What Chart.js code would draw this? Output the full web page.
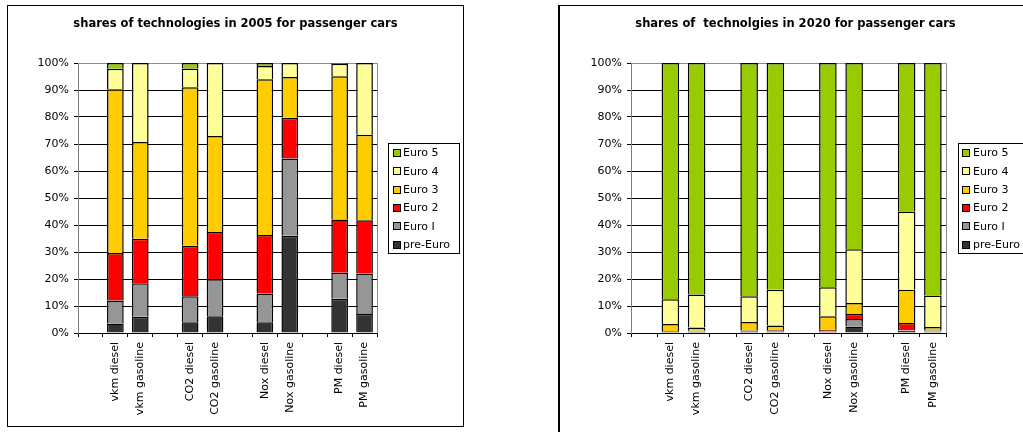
<!DOCTYPE html>
<html>
<head>
<meta charset="utf-8">
<script src="https://cdn.jsdelivr.net/npm/chart.js@4/dist/chart.umd.min.js"></script>
<style>
  html, body { margin: 0; padding: 0; background: #fff; overflow: hidden; width: 1023px; height: 432px; }
  .box { position: absolute; border: 1px solid #000; background: #fff; }
  #box2005 { left: 7px; top: 5px; width: 455px; height: 420px; }
  #box2020 { left: 558px; top: 5px; width: 472px; height: 440px; border-left-width: 2px; }
  canvas { display: block; }
</style>
</head>
<body>
<div class="box" id="box2005"><canvas id="c2005" width="455" height="420"></canvas></div>
<div class="box" id="box2020"><canvas id="c2020" width="471" height="440"></canvas></div>
<script>
// Categories (empty slots separate the vkm / CO2 / Nox / PM groups)
const categories = ['', 'vkm diesel', 'vkm gasoline', '', 'CO2 diesel', 'CO2 gasoline', '', 'Nox diesel', 'Nox gasoline', '', 'PM diesel', 'PM gasoline'];

const seriesNames = ['pre-Euro', 'Euro I', 'Euro 2', 'Euro 3', 'Euro 4', 'Euro 5'];
const seriesColors = ['#333333', '#969696', '#FF0000', '#FFCC00', '#FFFF99', '#99CC00'];

// Shares in 2005 (%)
const preEuro2005 = [null, 3.5, 6.0, null, 4.0, 6.2, null, 4.0, 36.0, null, 12.7, 7.0];
const euroI2005   = [null, 8.5, 12.4, null, 9.6, 13.7, null, 10.6, 28.6, null, 9.6, 15.0];
const euro2_2005  = [null, 17.6, 16.5, null, 18.7, 17.5, null, 21.7, 15.1, null, 19.7, 19.8];
const euro3_2005  = [null, 60.7, 35.8, null, 58.7, 35.6, null, 57.7, 15.1, null, 53.1, 31.6];
const euro4_2005  = [null, 7.6, 29.3, null, 7.0, 27.0, null, 4.9, 5.2, null, 4.6, 26.6];
const euro5_2005  = [null, 2.1, 0, null, 2.0, 0, null, 1.1, 0, null, 0.3, 0];

// Shares in 2020 (%)
const preEuro2020 = [null, 0.4, 0.5, null, 0.4, 0.6, null, 0.4, 2.4, null, 0.8, 0.5];
const euroI2020   = [null, 0.1, 0.1, null, 0.1, 0.2, null, 0.2, 2.8, null, 0.2, 0.1];
const euro2_2020  = [null, 0.2, 0.2, null, 0.4, 0.3, null, 0.6, 1.8, null, 2.7, 0.3];
const euro3_2020  = [null, 2.6, 1.2, null, 3.2, 1.7, null, 5.0, 4.1, null, 12.3, 1.3];
const euro4_2020  = [null, 9.2, 12.3, null, 9.5, 13.2, null, 10.7, 19.9, null, 29.0, 11.7];
const euro5_2020  = [null, 87.5, 85.7, null, 86.4, 84.0, null, 83.1, 69.0, null, 55.0, 86.1];

const yTicks = [0, 10, 20, 30, 40, 50, 60, 70, 80, 90, 100];

const FONT = '"DejaVu Sans", Verdana, sans-serif';
Chart.defaults.color = '#000';
Chart.defaults.font.family = FONT;
Chart.defaults.font.size = 11;

// Chart heading, centred across the whole chart box
const boxTitle = {
  id: 'boxTitle',
  afterDraw(chart, args, o) {
    const ctx = chart.ctx;
    ctx.save();
    ctx.font = 'bold 11.5px ' + FONT;
    ctx.fillStyle = '#000';
    ctx.textAlign = 'center';
    ctx.textBaseline = 'middle';
    ctx.fillText(o.text, chart.width / 2 + (o.shift || 0), o.y);
    ctx.restore();
  }
};

// Gray frame on top and right of the plot area
const plotFrame = {
  id: 'plotFrame',
  beforeDatasetsDraw(chart) {
    const { ctx, chartArea: a } = chart;
    ctx.save();
    ctx.strokeStyle = '#8c8c8c';
    ctx.lineWidth = 1;
    ctx.beginPath();
    ctx.moveTo(Math.round(a.left) + 0.5, Math.round(a.top) + 0.5);
    ctx.lineTo(Math.round(a.right) + 0.5, Math.round(a.top) + 0.5);
    ctx.lineTo(Math.round(a.right) + 0.5, Math.round(a.bottom) + 0.5);
    ctx.stroke();
    ctx.restore();
  }
};

// Boxed legend listing the series from top (Euro 5) to bottom (pre-Euro)
const boxLegend = {
  id: 'boxLegend',
  afterDraw(chart, args, o) {
    const { ctx, chartArea: a } = chart;
    const x = Math.round(a.right) + o.gap, y = o.top, w = o.width, h = o.height;
    ctx.save();
    ctx.fillStyle = '#fff';
    ctx.fillRect(x, y, w, h);
    ctx.strokeStyle = '#000';
    ctx.lineWidth = 1;
    ctx.strokeRect(x + 0.5, y + 0.5, w - 1, h - 1);
    ctx.font = '11px ' + FONT;
    ctx.textBaseline = 'middle';
    ctx.textAlign = 'left';
    const items = chart.data.datasets.slice().reverse();
    items.forEach((d, i) => {
      const cy = y + o.firstRow + i * o.rowHeight;
      const sx = x + o.swatchX, sy = Math.round(cy - 4);
      ctx.fillStyle = '#000';
      ctx.fillRect(sx, sy, 8, 8);
      ctx.fillStyle = d.backgroundColor;
      ctx.fillRect(sx + 1, sy + 1, 6, 6);
      ctx.fillStyle = '#000';
      ctx.fillText(d.label, x + o.textX, cy + 0.5);
    });
    ctx.restore();
  }
};

function makeDatasets(series) {
  return series.map((values, i) => ({
    label: seriesNames[i],
    data: values,
    backgroundColor: seriesColors[i],
    borderColor: '#000',
    borderWidth: 1.5,
    borderSkipped: 'start',
    barPercentage: 0.67,
    categoryPercentage: 1
  }));
}

function makeChart(canvasId, title, series, yWidth, rightPad, xHeight, legendOpts) {
  return new Chart(document.getElementById(canvasId), {
    type: 'bar',
    data: { labels: categories, datasets: makeDatasets(series) },
    plugins: [plotFrame, boxLegend, boxTitle],
    options: {
      responsive: false,
      animation: false,
      events: [],
      layout: { padding: { left: 0, right: rightPad, top: 57, bottom: 0 } },
      plugins: {
        legend: { display: false },
        tooltip: { enabled: false },
        title: { display: false },
        boxTitle: { text: title, y: 18 },
        boxLegend: legendOpts
      },
      scales: {
        x: {
          stacked: true,
          grid: { offset: true, drawOnChartArea: false, drawTicks: true, tickLength: 4, color: '#000' },
          border: { color: '#000' },
          ticks: { autoSkip: false, maxRotation: 90, minRotation: 90, padding: 5, color: '#000', font: { size: 11 } },
          afterFit(scale) { scale.height = xHeight; }
        },
        y: {
          stacked: true,
          min: 0,
          max: 100,
          afterBuildTicks(scale) { scale.ticks = yTicks.map(v => ({ value: v })); },
          grid: { color: '#000', drawTicks: true, tickLength: 4, tickColor: '#000' },
          border: { color: '#808080' },
          ticks: { padding: 5, color: '#000', font: { size: 11 }, callback: v => v + '%' },
          afterFit(scale) { scale.width = yWidth; }
        }
      }
    }
  });
}

makeChart('c2005', 'shares of technologies in 2005 for passenger cars',
  [preEuro2005, euroI2005, euro2_2005, euro3_2005, euro4_2005, euro5_2005],
  70, 86, 93,
  { gap: 11, top: 137, width: 72, height: 111, firstRow: 10, rowHeight: 18.33, swatchX: 5, textX: 15 });

makeChart('c2020', 'shares of  technolgies in 2020 for passenger cars',
  [preEuro2020, euroI2020, euro2_2020, euro3_2020, euro4_2020, euro5_2020],
  71, 85, 113,
  { gap: 12, top: 137, width: 72, height: 111, firstRow: 10, rowHeight: 18.33, swatchX: 4, textX: 15 });
</script>
</body>
</html>
